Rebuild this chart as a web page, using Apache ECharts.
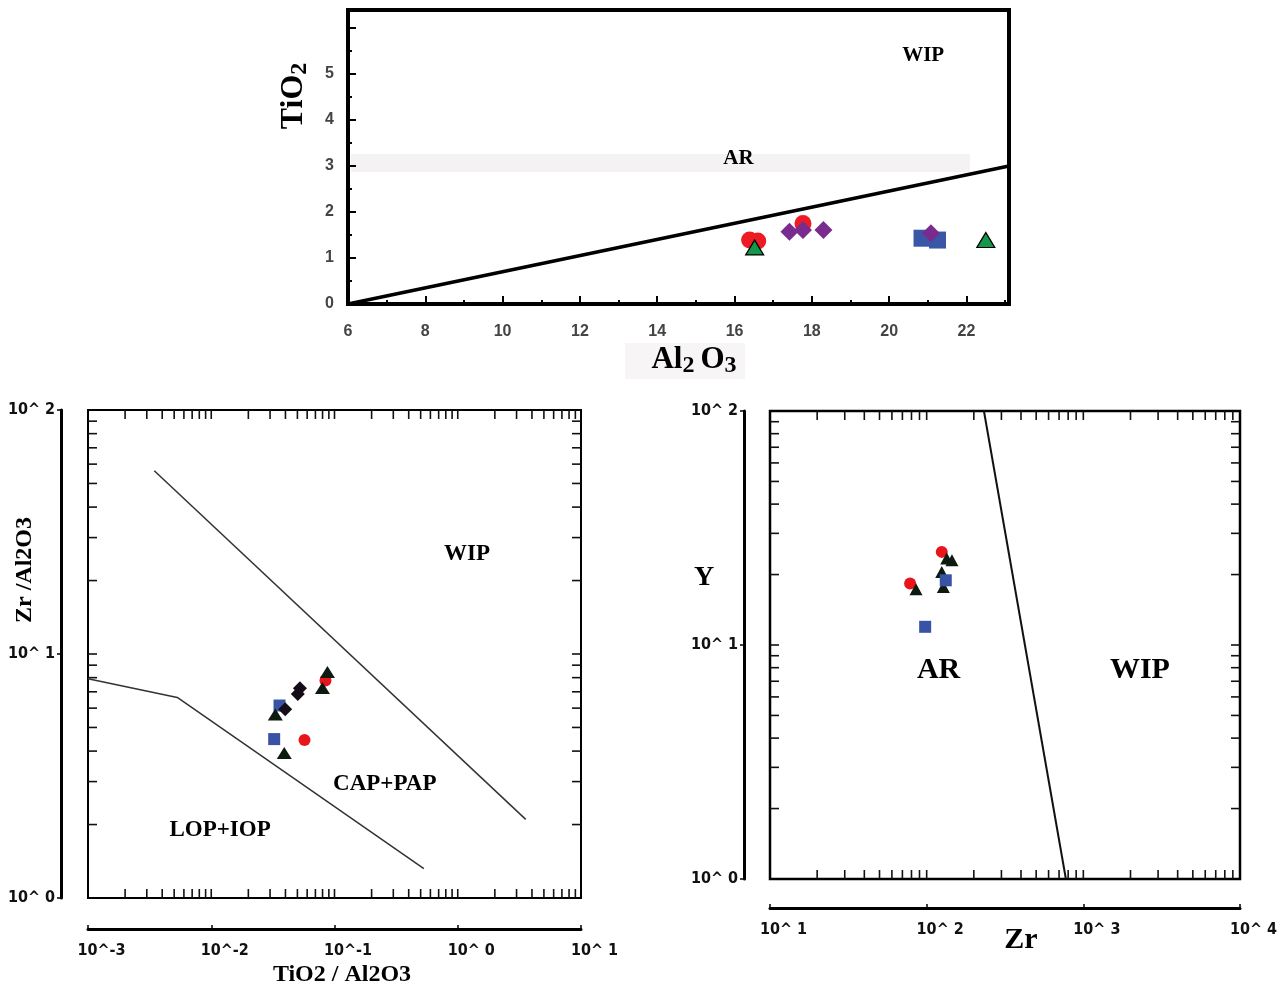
<!DOCTYPE html>
<html style="height: 100%">
<head>
    <meta charset="utf-8">
</head>
<body style="height: 100%; margin: 0; background: #fff">
<div id="container" style="width: 1287px; height: 987px"></div>
<script type="text/javascript" src="https://cdn.jsdelivr.net/npm/echarts@6/dist/echarts.min.js"></script>
<script type="text/javascript">
var dom = document.getElementById('container');
var myChart = echarts.init(dom);

// top diagram: Al2O3 (x) vs TiO2 (y)
var topCircles = [[16.39, 1.39], [16.6, 1.37], [17.77, 1.75]];
var topSquares = [[20.85, 1.43], [21.25, 1.39]];
var topDiamonds = [[17.42, 1.57], [17.77, 1.61], [18.3, 1.61], [21.08, 1.54]];
var topTriangles = [[16.52, 1.23], [22.5, 1.39]];
var topBoundary = [[6, 0], [23.1, 3.0]];
var topRegions = [[20.88, 5.41, 'WIP'], [16.1, 3.15, 'AR']];

// lower left: TiO2/Al2O3 (x) vs Zr/Al2O3 (y)
var llTriangles = [[0.0876, 8.44], [0.0798, 7.26], [0.0331, 5.65], [0.0391, 3.93]];
var llCircles = [[0.0845, 7.78], [0.0571, 4.44]];
var llSquares = [[0.0358, 6.15], [0.0324, 4.48]];
var llDiamonds = [[0.0524, 7.24], [0.0504, 6.86], [0.0398, 5.94]];
var llUpper = [[0.00345, 56.4], [3.56, 2.10]];
var llLower = [[0.001, 7.92], [0.0053, 6.64], [0.531, 1.318]];
var llRegions = [[1.19, 25.6, 'WIP'], [0.2557, 2.94, 'CAP+PAP'], [0.01179, 1.893, 'LOP+IOP']];

// lower right: Zr (x) vs Y (y)
var lrCircles = [[78.4, 18.3], [124.8, 25.0]];
var lrTriangles = [[85.5, 17.3], [134.3, 23.4], [145, 23.0], [124.8, 20.5], [127.8, 17.7]];
var lrSquares = [[132.4, 18.9], [97.8, 11.96]];
var lrBoundary = [[232, 100], [774, 1]];
var lrRegions = [[119.2, 7.78, 'AR'], [2296, 7.78, 'WIP']];

var serif = "'Liberation Serif', 'Times New Roman', serif";
var numFont = "'Liberation Sans Narrow', 'DejaVu Sans Condensed', 'Liberation Sans', sans-serif";

// log minor tick positions (1..9 x 10^e) for the box frame
function logTicks(lo, hi) {
    var t = [];
    for (var e = lo; e < hi; e++) {
        for (var m = 1; m < 10; m++) {
            if (e === lo && m === 1) continue;
            t.push(m * Math.pow(10, e));
        }
    }
    return t;
}

function powLabel(v) {
    var e = Math.round(Math.log10(v));
    return '10^' + (e < 0 ? e : ' ' + e);
}

function frameTicks(dir) {
    return function (params, api) {
        var cs = params.coordSys;
        var p = api.coord([api.value(0), api.value(1)]);
        var st = {stroke: '#111', lineWidth: 1.6};
        var len = 9;
        if (dir === 'x') {
            var b = cs.y + cs.height;
            return {type: 'group', children: [
                {type: 'line', shape: {x1: p[0], y1: b, x2: p[0], y2: b - len}, style: st},
                {type: 'line', shape: {x1: p[0], y1: cs.y, x2: p[0], y2: cs.y + len}, style: st}
            ]};
        }
        var r = cs.x + cs.width;
        return {type: 'group', children: [
            {type: 'line', shape: {x1: cs.x, y1: p[1], x2: cs.x + len, y2: p[1]}, style: st},
            {type: 'line', shape: {x1: r, y1: p[1], x2: r - len, y2: p[1]}, style: st}
        ]};
    };
}

function scatter(idx, data, symbol, size, color, border) {
    return {
        type: 'scatter', xAxisIndex: idx, yAxisIndex: idx,
        symbol: symbol, symbolSize: size, data: data,
        itemStyle: {color: color, opacity: 1, borderColor: border || color, borderWidth: border ? 1.2 : 0},
        z: 4
    };
}

function regions(idx, list, size) {
    return {
        type: 'scatter', xAxisIndex: idx, yAxisIndex: idx, symbolSize: 0, z: 5,
        itemStyle: {opacity: 1},
        data: list.map(function (r) { return {name: r[2], value: [r[0], r[1]]}; }),
        label: {show: true, position: 'inside', formatter: '{b}', color: '#000', opacity: 1,
            fontFamily: serif, fontWeight: 'bold', fontSize: size}
    };
}

function boundary(idx, data, width, color) {
    return {
        type: 'line', xAxisIndex: idx, yAxisIndex: idx, data: data, symbol: 'none',
        lineStyle: {color: color, width: width}, z: 3
    };
}

function tickSeries(idx, dir, data) {
    return {
        type: 'custom', xAxisIndex: idx, yAxisIndex: idx, renderItem: frameTicks(dir),
        data: data, silent: true, z: 3
    };
}

function logXAxis(idx, min, max, offset) {
    return {
        gridIndex: idx, type: 'log', logBase: 10, min: min, max: max, offset: offset,
        axisLine: {lineStyle: {color: '#000', width: 3}},
        axisTick: {inside: true, length: 4, lineStyle: {color: '#000', width: 1.5}},
        splitLine: {show: false},
        axisLabel: {
            margin: 14, align: 'center', color: '#111',
            formatter: function (v) { return '{a|' + powLabel(v) + '}'; },
            rich: {a: {padding: [0, 0, 0, 27], color: '#111',
                fontFamily: numFont, fontWeight: 'bold', fontSize: 16}}
        }
    };
}

function logYAxis(idx, offset) {
    return {
        gridIndex: idx, type: 'log', logBase: 10, min: 1, max: 100, offset: offset,
        axisLine: {lineStyle: {color: '#000', width: 3}},
        axisTick: {length: 4, lineStyle: {color: '#000', width: 1.5}},
        splitLine: {show: false},
        axisLabel: {margin: 6, formatter: powLabel, color: '#111',
            fontFamily: numFont, fontWeight: 'bold', fontSize: 16}
    };
}

var topTickStyle = {color: '#000', width: 2};
var topLabel = {color: '#444', fontFamily: "'Liberation Sans', Arial, sans-serif", fontWeight: 'bold', fontSize: 16};

var titleRich = function (big, small) {
    return {
        m: {fontFamily: serif, fontWeight: 'bold', fontSize: big, lineHeight: 36},
        s: {fontFamily: serif, fontWeight: 'bold', fontSize: small, lineHeight: 20, verticalAlign: 'bottom'}
    };
};

option = {
    animation: false,
    backgroundColor: '#fff',
    grid: [
        {left: 348, top: 10, width: 661, height: 294, show: true, borderColor: '#000', borderWidth: 4, outerBoundsMode: 'none'},
        {left: 88, top: 410, width: 493, height: 488, show: true, borderColor: '#000', borderWidth: 2, outerBoundsMode: 'none'},
        {left: 770, top: 411, width: 470, height: 468, show: true, borderColor: '#000', borderWidth: 2.5, outerBoundsMode: 'none'}
    ],
    xAxis: [
        {
            gridIndex: 0, type: 'value', min: 6, max: 23.1, interval: 2,
            axisLine: {lineStyle: {color: '#000', width: 4}},
            axisTick: {inside: true, length: 8, lineStyle: topTickStyle},
            minorTick: {show: true, splitNumber: 2, length: 4, lineStyle: topTickStyle},
            splitLine: {show: false},
            axisLabel: Object.assign({margin: 20, formatter: function (v) { return v % 2 === 0 ? v : ''; }}, topLabel)
        },
        logXAxis(1, 0.001, 10, 31),
        logXAxis(2, 10, 10000, 29)
    ],
    yAxis: [
        {
            gridIndex: 0, type: 'value', min: 0, max: 6.39, interval: 1,
            axisLine: {lineStyle: {color: '#000', width: 4}},
            axisTick: {inside: true, length: 8, lineStyle: topTickStyle},
            minorTick: {show: true, splitNumber: 2, length: 4, lineStyle: topTickStyle},
            splitLine: {show: false},
            axisLabel: Object.assign({margin: 14, formatter: function (v) { return (v <= 5 && v === Math.round(v)) ? v : ''; }}, topLabel)
        },
        logYAxis(1, 27),
        logYAxis(2, 26)
    ],
    graphic: [
        {type: 'rect', shape: {x: 351, y: 154, width: 619, height: 18}, style: {fill: '#f4f2f2'}, z: -10},
        {type: 'rect', shape: {x: 625, y: 343, width: 120, height: 36}, style: {fill: '#f7f5f5'}, z: -10},
        {type: 'text', x: 294, y: 96, rotation: Math.PI / 2,
            style: {text: '{m|TiO}{s|2}', align: 'center', verticalAlign: 'middle', fill: '#000', rich: titleRich(32, 24)}},
        {type: 'text', x: 694, y: 360,
            style: {text: '{m|Al}{s|2 }{m|O}{s|3}', align: 'center', verticalAlign: 'middle', fill: '#000', rich: titleRich(31, 24)}},
        {type: 'text', x: 25, y: 570, rotation: Math.PI / 2,
            style: {text: 'Zr /Al2O3', align: 'center', verticalAlign: 'middle', fill: '#000',
                font: 'bold 24px ' + serif}},
        {type: 'text', x: 342, y: 975,
            style: {text: 'TiO2 / Al2O3', align: 'center', verticalAlign: 'middle', fill: '#000',
                font: 'bold 24px ' + serif}},
        {type: 'text', x: 704, y: 578,
            style: {text: 'Y', align: 'center', verticalAlign: 'middle', fill: '#000', font: 'bold 28px ' + serif}},
        {type: 'text', x: 1021, y: 940,
            style: {text: 'Zr', align: 'center', verticalAlign: 'middle', fill: '#000', font: 'bold 30px ' + serif}}
    ],
    series: [
        boundary(0, topBoundary, 3.5, '#000'),
        scatter(0, topCircles, 'circle', 17, '#ed1c24'),
        scatter(0, topSquares, 'rect', 17, '#3a57a7'),
        scatter(0, topDiamonds, 'diamond', 18, '#7a2c8e'),
        scatter(0, topTriangles, 'triangle', [18, 15], '#129848', '#000'),
        regions(0, topRegions, 21),

        boundary(1, llUpper, 1.5, '#333'),
        boundary(1, llLower, 1.5, '#333'),
        tickSeries(1, 'x', logTicks(-3, 1).map(function (v) { return [v, 1]; })),
        tickSeries(1, 'y', logTicks(0, 2).map(function (v) { return [0.001, v]; })),
        scatter(1, llSquares, 'rect', 12, '#3953a4'),
        scatter(1, llCircles, 'circle', 12, '#e8151b'),
        scatter(1, llDiamonds, 'diamond', 14, '#140d17'),
        scatter(1, llTriangles, 'triangle', [15, 12], '#0d1a0f'),
        regions(1, llRegions, 23),

        boundary(2, lrBoundary, 2, '#111'),
        tickSeries(2, 'x', logTicks(1, 4).map(function (v) { return [v, 1]; })),
        tickSeries(2, 'y', logTicks(0, 2).map(function (v) { return [10, v]; })),
        scatter(2, lrCircles, 'circle', 12, '#e8151b'),
        scatter(2, lrTriangles, 'triangle', [13, 12], '#0d1a0f'),
        scatter(2, lrSquares, 'rect', 12, '#3953a4'),
        regions(2, lrRegions, 30)
    ]
};

if (option && typeof option === 'object') {
    myChart.setOption(option);
}
</script>
</body>
</html>
